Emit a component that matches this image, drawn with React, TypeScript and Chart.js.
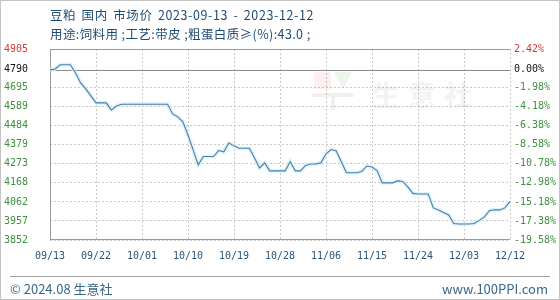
import { useEffect, useRef } from 'react';
import { Chart, registerables } from 'chart.js';

Chart.register(...registerables);

const titleLine1 = '豆粕 国内 市场价 2023-09-13 - 2023-12-12';
const titleLine2 = '用途:饲料用 ;工艺:带皮 ;粗蛋白质≥(%):43.0 ;';
const footerLeft = '© 2024.08 生意社';
const footerRight = 'www.100PPI.com';

const xTickLabels = ['09/13', '09/22', '10/01', '10/10', '10/19', '10/28', '11/06', '11/15', '11/24', '12/03', '12/12'];
const xTickStep = 9;

const yTickValues = [3852, 3957, 4062, 4168, 4273, 4379, 4484, 4589, 4695, 4790, 4905];
const yPctLabels = ['-19.58%', '-17.38%', '-15.18%', '-12.98%', '-10.78%', '-8.58%', '-6.38%', '-4.18%', '-1.98%', '0.00%', '2.42%'];
const baseValue = 4790;

// daily prices 2023-09-13 .. 2023-12-12
const prices = [
  4790, 4795, 4818, 4818, 4818, 4773, 4718, 4685, 4647, 4608,
  4608, 4608, 4569, 4591, 4600, 4600, 4600, 4600, 4600, 4600,
  4600, 4600, 4600, 4600, 4547, 4531, 4503, 4431, 4349, 4266,
  4312, 4312, 4312, 4345, 4338, 4387, 4371, 4358, 4358, 4358,
  4305, 4249, 4277, 4233, 4233, 4233, 4233, 4284, 4233, 4233,
  4263, 4271, 4271, 4277, 4327, 4351, 4343, 4284, 4223, 4223,
  4223, 4230, 4260, 4254, 4235, 4167, 4167, 4167, 4178, 4175,
  4145, 4109, 4106, 4106, 4106, 4029, 4018, 4004, 3990, 3943,
  3940, 3940, 3940, 3943, 3960, 3979, 4015, 4018, 4018, 4029,
  4065,
];

const RED = '#d23a3a';
const GREEN = '#3f8f3f';
const BLACK = '#111111';

function tickColor(ctx: any) {
  const v = ctx.tick ? ctx.tick.value : 0;
  if (v > baseValue) return RED;
  if (v === baseValue) return BLACK;
  return GREEN;
}

const framePlugin = {
  id: 'frame',
  beforeDatasetsDraw(chart: any) {
    const { ctx, chartArea, scales } = chart;
    const { left, right, top, bottom } = chartArea;
    ctx.save();
    // watermark
    ctx.fillStyle = 'rgba(110,110,110,0.09)';
    ctx.font = 'bold 28px "Noto Sans CJK SC"';
    ctx.textBaseline = 'alphabetic';
    ctx.fillText('生', 372, 106);
    ctx.fillText('意', 408, 106);
    ctx.fillText('社', 444, 106);
    ctx.fillStyle = 'rgba(220,80,80,0.09)';
    ctx.fillRect(314, 72, 17, 17);
    ctx.fillStyle = 'rgba(60,160,80,0.11)';
    ctx.beginPath();
    ctx.moveTo(334, 72);
    ctx.lineTo(352, 72);
    ctx.lineTo(343, 89);
    ctx.closePath();
    ctx.fill();
    ctx.fillStyle = 'rgba(0,0,0,0.06)';
    ctx.fillRect(312, 93, 42, 4);
    ctx.fillRect(331, 97, 4, 13);

    // frame
    ctx.strokeStyle = '#9a9a9a';
    ctx.lineWidth = 1;
    ctx.beginPath();
    ctx.moveTo(left + 0.5, top + 0.5);
    ctx.lineTo(right, top + 0.5);
    ctx.moveTo(left + 0.5, top);
    ctx.lineTo(left + 0.5, bottom);
    ctx.moveTo(left, bottom - 0.5);
    ctx.lineTo(right, bottom - 0.5);
    ctx.stroke();
    // base line
    const yb = Math.round(scales.y.getPixelForValue(baseValue)) + 0.5;
    ctx.strokeStyle = '#8a8a8a';
    ctx.beginPath();
    ctx.moveTo(left, yb);
    ctx.lineTo(right, yb);
    ctx.stroke();
    ctx.restore();
  },
};

export default function App() {
  const canvasRef = useRef<HTMLCanvasElement | null>(null);

  useEffect(() => {
    const canvas = canvasRef.current;
    if (!canvas) return;
    const points = prices.map((v, i) => ({ x: i, y: v }));
    const yTicks = (axis: any) => {
      axis.ticks = yTickValues.map((v) => ({ value: v }));
    };
    const chart = new Chart(canvas, {
      type: 'line',
      data: {
        datasets: [
          {
            data: points,
            borderColor: '#4a7ea3',
            borderWidth: 1.1,
            pointRadius: 0,
            tension: 0,
            yAxisID: 'y',
            order: 0,
          },
          {
            data: points,
            borderColor: 'rgba(214,240,251,0.8)',
            borderWidth: 4,
            pointRadius: 0,
            tension: 0,
            yAxisID: 'y',
            order: 1,
          },
        ],
      },
      options: {
        animation: false,
        responsive: false,
        devicePixelRatio: 1,
        layout: { padding: { top: 49, left: 0, right: 0, bottom: 0 } },
        plugins: { legend: { display: false }, tooltip: { enabled: false } },
        scales: {
          x: {
            type: 'linear',
            min: 0,
            max: prices.length - 1,
            afterBuildTicks: (axis: any) => {
              axis.ticks = xTickLabels.map((_, i) => ({ value: i * xTickStep }));
            },
            afterFit: (axis: any) => {
              axis.height = 60;
            },
            grid: { color: '#c9c9c9', drawTicks: false, lineWidth: 1 },
            border: { display: false, dash: [2, 2] },
            ticks: {
              padding: 10,
              color: '#2a5578',
              autoSkip: false,
              maxRotation: 0,
              font: { family: '"DejaVu Sans Mono"', size: 10 },
              callback: (v: any) => xTickLabels[Math.round(Number(v) / xTickStep)],
            },
          },
          y: {
            position: 'left',
            min: yTickValues[0],
            max: yTickValues[yTickValues.length - 1],
            afterBuildTicks: yTicks,
            afterFit: (axis: any) => {
              axis.width = 50;
            },
            grid: {
              color: (ctx: any) => (ctx.tick && ctx.tick.value === baseValue ? 'rgba(0,0,0,0)' : '#c9c9c9'),
              drawTicks: false,
              lineWidth: 1,
            },
            border: { display: false, dash: [2, 2] },
            ticks: {
              padding: 22,
              color: tickColor,
              autoSkip: false,
              font: { family: '"DejaVu Sans Mono"', size: 10 },
              callback: (v: any) => String(v),
            },
          },
          y2: {
            position: 'right',
            min: yTickValues[0],
            max: yTickValues[yTickValues.length - 1],
            afterBuildTicks: yTicks,
            afterFit: (axis: any) => {
              axis.width = 50;
            },
            grid: { display: false, drawTicks: false },
            border: { display: false },
            ticks: {
              padding: 4,
              color: tickColor,
              autoSkip: false,
              font: { family: '"DejaVu Sans Mono"', size: 10 },
              callback: (v: any) => yPctLabels[yTickValues.indexOf(Number(v))],
            },
          },
        },
      },
      plugins: [framePlugin],
    });
    return () => chart.destroy();
  }, []);

  const textFont = '"Noto Sans CJK SC", "Noto Sans", sans-serif';

  return (
    <div
      style={{
        position: 'absolute',
        left: 0,
        top: 0,
        width: 560,
        height: 300,
        boxSizing: 'border-box',
        border: '1px solid #c4c4c4',
        background: '#fff',
        overflow: 'hidden',
      }}
    >
      <canvas ref={canvasRef} width={560} height={300} style={{ position: 'absolute', left: -1, top: -1 }} />
      <div style={{ position: 'absolute', left: 49, top: 4, fontFamily: textFont, fontSize: 12.5, letterSpacing: '0.6px', wordSpacing: '2px', lineHeight: '19px', color: '#1f4b73', whiteSpace: 'pre' }}>
        {titleLine1}
      </div>
      <div style={{ position: 'absolute', left: 49, top: 23, fontFamily: textFont, fontSize: 12.5, letterSpacing: '0.4px', lineHeight: '19px', color: '#1f4b73', whiteSpace: 'pre' }}>
        {titleLine2}
      </div>
      <div style={{ position: 'absolute', left: 9, top: 275, width: 540, height: 0, borderTop: '1px solid #a0a0a0' }} />
      <div style={{ position: 'absolute', left: 9, top: 278, fontFamily: textFont, fontSize: 13, lineHeight: '20px', color: '#3a6688', whiteSpace: 'pre' }}>
        {footerLeft}
      </div>
      <div style={{ position: 'absolute', right: 11, top: 278, fontFamily: textFont, fontSize: 13, lineHeight: '20px', color: '#3a6688', whiteSpace: 'pre' }}>
        {footerRight}
      </div>
    </div>
  );
}
